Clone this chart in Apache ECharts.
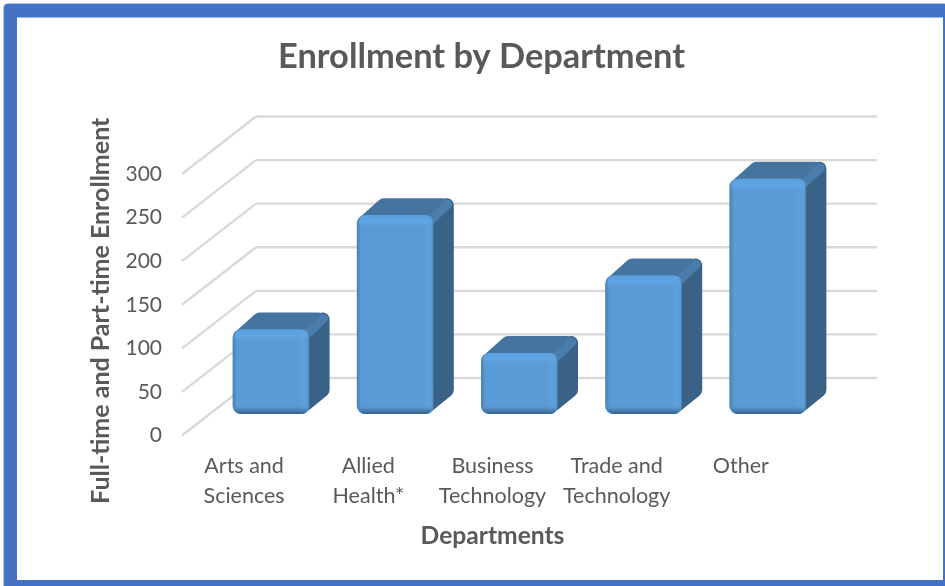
<!DOCTYPE html>
<html><head><meta charset="utf-8">
<style>html,body{margin:0;padding:0;background:#fff}#c{width:945px;height:586px}</style>
<script src="https://cdn.jsdelivr.net/npm/echarts@6/dist/echarts.min.js"></script>
</head><body><div id="c"></div>
<script>
const categories = ['Arts and\nSciences','Allied\nHealth*','Business\nTechnology','Trade and\nTechnology','Other'];
const enrollment = [97, 228, 70, 159, 270];
const yTicks = [0,50,100,150,200,250,300];

const WALL_DX = 74, WALL_DY = -57.5;
const BAR_DX = 27, BAR_DY = -21.5;
const DEPTH_DX = 20, DEPTH_DY = -17;
const BAR_W = 77;
const R = 7;

function renderGrid(params, api){
  const v = api.value(0);
  const p = api.coord([0, v]);
  const cs = params.coordSys;
  const x0 = cs.x, y = p[1];
  const x1 = x0 + WALL_DX, y1 = y + WALL_DY;
  const style = {stroke:'#d9d9d9', lineWidth:2.4, fill:null};
  return {type:'group', children:[
    {type:'line', shape:{x1:x0,y1:y,x2:x1,y2:y1}, style},
    {type:'line', shape:{x1:x1,y1:y1,x2:x0+cs.width+WALL_DX,y2:y1}, style}
  ]};
}

function renderBar(params, api){
  const idx = api.value(0);
  const top = api.coord([idx, api.value(1)]);
  const base = api.coord([idx, 0]);
  const l = top[0] - BAR_W/2 + BAR_DX;
  const r = l + BAR_W;
  const t = top[1] + BAR_DY;
  const b = base[1] + BAR_DY;
  const dx = DEPTH_DX, dy = DEPTH_DY;
  const h = b - t;
  return {type:'group', children:[
    {type:'polygon', shape:{points:[[r-R-1,t+R],[r+dx-R,t+dy+R],[r+dx-R,b+dy-R],[r-R-1,b-R]]},
     style:{fill:'#3a6186', stroke:'#3a6186', lineWidth:R*2, lineJoin:'round'}},
    {type:'polygon', shape:{points:[[l+R+1,t+R],[l+dx+R,t+dy+R],[r+dx-R-4,t+dy+R],[r-R-4,t+R]]},
     style:{fill:'#44749f', stroke:'#44749f', lineWidth:R*2, lineJoin:'round'}},
    {type:'line', shape:{x1:r-3,y1:t+5,x2:r+dx-6,y2:t+dy+6},
     style:{stroke:'#4a7dab', lineWidth:9, lineCap:'round'}},
    {type:'rect', shape:{x:l,y:t,width:BAR_W,height:h,r:R+1},
     style:{fill:{type:'linear',x:0,y:0,x2:1,y2:0,colorStops:[
       {offset:0,color:'#4a80b2'},{offset:0.06,color:'#5b9bd5'},
       {offset:0.86,color:'#5b9bd5'},{offset:0.92,color:'#5ca1de'},
       {offset:0.98,color:'#5a9ad2'},{offset:1,color:'#3f6d97'}]}}},
    {type:'rect', shape:{x:l+2,y:t,width:BAR_W-4,height:13,r:[8,8,0,0]},
     style:{fill:{type:'linear',x:0,y:0,x2:0,y2:1,colorStops:[
       {offset:0,color:'#5b9fdc'},{offset:0.5,color:'#5fa6e6'},{offset:1,color:'rgba(91,155,213,0)'}]}}},
    {type:'rect', shape:{x:l+1,y:b-9,width:BAR_W-2,height:9,r:[0,0,8,8]},
     style:{fill:{type:'linear',x:0,y:0,x2:0,y2:1,colorStops:[
       {offset:0,color:'rgba(91,155,213,0)'},{offset:0.55,color:'rgba(72,124,172,0.8)'},{offset:1,color:'#355f86'}]}}}
  ]};
}

const chart = echarts.init(document.getElementById('c'), null, {renderer:'canvas'});
const font = 'Lato, "Noto Sans", sans-serif';
const blue = '#4472c4';
chart.setOption({
  animation:false,
  backgroundColor:'#fff',
  graphic:[
    {type:'rect', z:-2, shape:{x:3.5,y:3.5,width:945,height:590,r:5}, style:{fill:null, stroke:'#b4c7e7', lineWidth:1}},
    {type:'rect', z:-1, shape:{x:4,y:4,width:945,height:13.5,r:[4,0,0,0]}, style:{fill:blue}},
    {type:'rect', z:-1, shape:{x:4,y:4,width:13,height:590,r:[4,0,0,0]}, style:{fill:blue}},
    {type:'rect', z:-1, shape:{x:943,y:4,width:2,height:582}, style:{fill:blue}},
    {type:'rect', z:-1, shape:{x:4,y:580,width:941,height:6}, style:{fill:blue}}
  ],
  title:{text:'Enrollment by Department', left:278, top:40, padding:0,
    textStyle:{fontFamily:font,fontWeight:'bold',fontSize:34.4,color:'#595959'}},
  grid:{left:182, top:174, width:621, height:261.5},
  xAxis:{type:'category', data:categories,
    axisLine:{show:false}, axisTick:{show:false},
    axisLabel:{fontFamily:font,fontSize:21.5,color:'#595959',margin:15.5,lineHeight:30,interval:0},
    name:'Departments', nameLocation:'middle', nameGap:88,
    nameTextStyle:{fontFamily:font,fontWeight:'bold',fontSize:24.6,color:'#595959'}},
  yAxis:{type:'value', min:0, max:300, interval:50,
    axisLine:{show:false}, axisTick:{show:false}, splitLine:{show:false},
    axisLabel:{fontFamily:font,fontSize:21,color:'#595959',margin:20},
    name:'Full-time and Part-time Enrollment', nameLocation:'middle', nameGap:69, nameRotate:90,
    nameTextStyle:{fontFamily:font,fontWeight:'bold',fontSize:25,color:'#595959',padding:[0,12,0,0]}},
  series:[
    {type:'custom', renderItem:renderGrid, data:yTicks.map(v=>[v]), encode:{y:0}, z:1, silent:true, clip:false},
    {type:'custom', renderItem:renderBar, data:enrollment.map((v,i)=>[i,v]), encode:{x:0,y:1}, z:2, clip:false}
  ]
});
</script></body></html>
